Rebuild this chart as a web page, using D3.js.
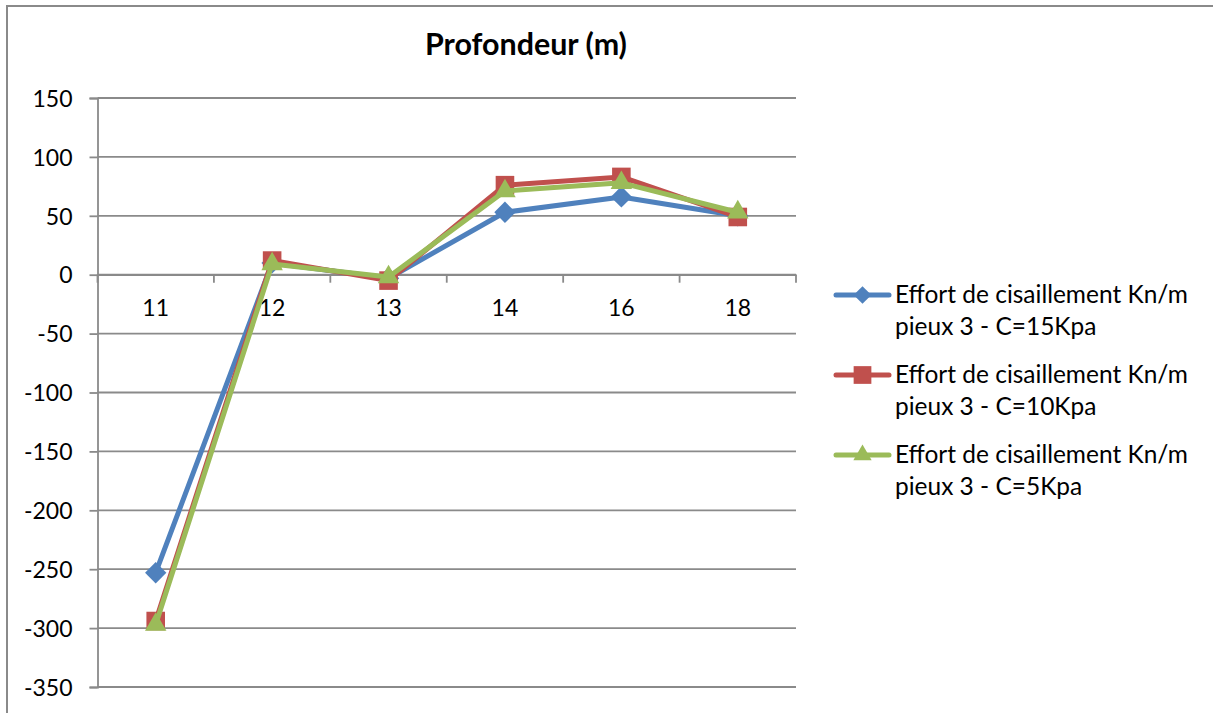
<!DOCTYPE html>
<html><head><meta charset="utf-8">
<script src="https://cdn.jsdelivr.net/npm/d3@7"></script>
<style>body{margin:0;background:#fff}svg{display:block}text{font-family:Lato,"Open Sans",sans-serif;fill:#000}</style>
</head><body><svg id="c" width="1213" height="713"></svg>
<script>
const categories = ["11","12","13","14","16","18"];
const seriesNames = [
  ["Effort de cisaillement Kn/m","pieux 3 - C=15Kpa"],
  ["Effort de cisaillement Kn/m","pieux 3 - C=10Kpa"],
  ["Effort de cisaillement Kn/m","pieux 3 - C=5Kpa"]
];
const blueValues  = [-253, 10, -3, 53, 66, 50];
const redValues   = [-294, 12, -5, 76, 83, 49];
const greenValues = [-297, 9, -2, 71, 78, 53];
const yTicks = [150,100,50,0,-50,-100,-150,-200,-250,-300,-350];
const titleText = "Profondeur (m)";

const colors = ["#4F81BD","#C0504D","#9BBB59"];
const markers = [d3.symbolDiamond2, d3.symbolSquare2, d3.symbolTriangle2];
const markerSizes = [290, 440, 330];
const legendMarkerSizes = [200, 400, 240];
const allSeries = [blueValues, redValues, greenValues];

const svg = d3.select("#c");
const grid = "#8a8a8a";

function fit(sel, target){
  sel.style("font-size","100px");
  const w = sel.node().getComputedTextLength();
  sel.style("font-size", (100*target/w)+"px");
}

// outer border
svg.append("rect").attr("x",7).attr("y",6).attr("width",1220).attr("height",720)
  .attr("fill","none").attr("stroke",grid).attr("stroke-width",2);

const x = d3.scaleBand().domain(categories).range([97.5,796]).padding(0);
const y = d3.scaleLinear().domain([-350,150]).range([687,98]);

// gridlines
svg.append("g").selectAll("line").data(yTicks).join("line")
  .attr("x1",97.5).attr("x2",796).attr("y1",d=>y(d)).attr("y2",d=>y(d))
  .attr("stroke",grid).attr("stroke-width",1.8);

// y axis
const yAxis = svg.append("g").attr("transform","translate(97.5,0)")
  .call(d3.axisLeft(y).tickValues(yTicks).tickSize(8).tickPadding(17).tickFormat(d=>String(d)));
yAxis.select(".domain").attr("stroke",grid).attr("stroke-width",1.8);
yAxis.selectAll(".tick line").attr("stroke",grid).attr("stroke-width",1.8);
yAxis.selectAll(".tick text").attr("dy","0.36em").style("font-family","Lato").style("font-size","23px").attr("fill","#000");

// x axis at zero
const xAxis = svg.append("g").attr("transform",`translate(0,${y(0)})`)
  .call(d3.axisBottom(x).tickSize(0).tickPadding(25));
xAxis.select(".domain").attr("stroke",grid).attr("stroke-width",1.8);
xAxis.selectAll(".tick text").style("font-family","Lato").style("font-size","23px").attr("fill","#000").attr("dy","0.71em");
// boundary ticks
const bounds = categories.map(c=>x(c)).concat([x(categories[categories.length-1])+x.bandwidth()]);
svg.append("g").selectAll("line").data(bounds).join("line")
  .attr("x1",d=>d).attr("x2",d=>d).attr("y1",y(0)).attr("y2",y(0)+8)
  .attr("stroke",grid).attr("stroke-width",1.8);

// series
const cx = c => x(c)+x.bandwidth()/2;
const line = d3.line().x((d,i)=>cx(categories[i])).y(d=>y(d));
allSeries.forEach((vals,si)=>{
  const g = svg.append("g");
  g.append("path").datum(vals).attr("d",line).attr("fill","none")
    .attr("stroke",colors[si]).attr("stroke-width",5).attr("stroke-linejoin","round");
  g.selectAll("path.m").data(vals).join("path").attr("class","m")
    .attr("transform",(d,i)=>`translate(${cx(categories[i])},${y(d)})`)
    .attr("d",d3.symbol().type(markers[si]).size(markerSizes[si]))
    .attr("fill",colors[si]);
});

// title
const t = svg.append("text").attr("x",526).attr("y",55).attr("text-anchor","middle")
  .style("font-weight","bold").text(titleText);
fit(t,202);

// legend
const legY = [295,375,455];
seriesNames.forEach((lines,si)=>{
  const g = svg.append("g");
  g.append("line").attr("x1",836).attr("x2",889).attr("y1",legY[si]).attr("y2",legY[si])
    .attr("stroke",colors[si]).attr("stroke-width",5).attr("stroke-linecap","round");
  g.append("path").attr("transform",`translate(862.5,${legY[si]})`)
    .attr("d",d3.symbol().type(markers[si]).size(legendMarkerSizes[si])).attr("fill",colors[si]);
  const t1 = g.append("text").attr("x",895).attr("y",legY[si]+8).text(lines[0]);
  fit(t1,293);
  const fs = t1.style("font-size");
  g.append("text").attr("x",895).attr("y",legY[si]+40).style("font-size",fs).text(lines[1]);
});
</script></body></html>
